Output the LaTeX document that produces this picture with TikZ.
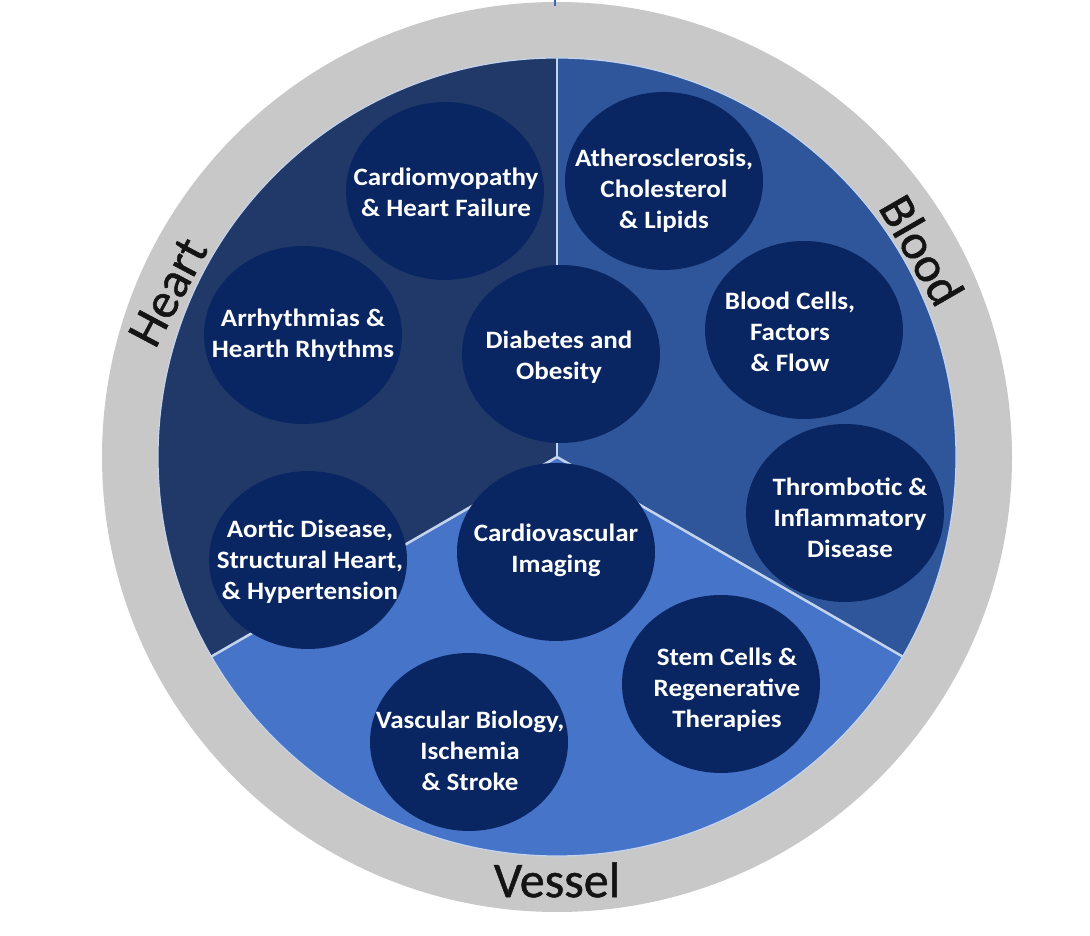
\documentclass[tikz,border=0pt]{standalone}
\usepackage{fontspec}
\setmainfont{Carlito}
\newfontfamily\bubfont[FakeStretch=1.08]{Carlito}
\newfontfamily\secfont[FakeBold=1]{Carlito}
\usetikzlibrary{calc}
\definecolor{ringgray}{RGB}{200,200,200}
\definecolor{heartc}{RGB}{33,57,104}
\definecolor{bloodc}{RGB}{47,86,155}
\definecolor{vesselc}{RGB}{70,116,200}
\definecolor{bubble}{RGB}{10,38,98}
\definecolor{divline}{RGB}{196,212,238}
\definecolor{labelc}{RGB}{20,20,20}
\definecolor{tickc}{RGB}{60,100,190}
\begin{document}
\begin{tikzpicture}[x=1pt,y=1pt,
  bub/.style={fill=bubble},
  btext/.style={text=white, font=\bubfont\fontsize{25}{31}\selectfont\bfseries, align=center, inner sep=0pt},
  seclabel/.style={font=\secfont\fontsize{50}{58}\selectfont, text=labelc, inner sep=0pt},
  divider/.style={draw=divline, line width=2.5pt}]
\useasboundingbox[fill=white] (0,0) rectangle (1090,936);
\coordinate (C) at (557,479);
% ring and sectors
\fill[ringgray] (C) circle[radius=455];
\fill[heartc] (C) -- ++(90:399) arc[start angle=90,end angle=210,radius=399] -- cycle;
\fill[bloodc] (C) -- ++(-30:399) arc[start angle=-30,end angle=90,radius=399] -- cycle;
\fill[vesselc] (C) -- ++(210:399) arc[start angle=210,end angle=330,radius=399] -- cycle;
\draw[divline, line width=1.2pt] (C) circle[radius=399];
\coordinate (top) at ($(C)+(90:399)$);
\coordinate (left) at ($(C)+(210:399)$);
\coordinate (right) at ($(C)+(330:399)$);
\draw[divider] (C) -- (top);
\draw[divider] (C) -- (left);
\draw[divider] (C) -- (right);
% small mark at top
\coordinate (m1) at (555,936);
\coordinate (m2) at (555,930);
\draw[tickc, line width=2pt] (m1) -- (m2);
% bubbles
\fill[bub] (445,745) ellipse[x radius=99, y radius=89];
\fill[bub] (664,755) ellipse[x radius=99, y radius=89];
\fill[bub] (303,601) ellipse[x radius=99, y radius=89];
\fill[bub] (561,582) ellipse[x radius=99, y radius=89];
\fill[bub] (804,606) ellipse[x radius=99, y radius=89];
\fill[bub] (845,423) ellipse[x radius=99, y radius=89];
\fill[bub] (308,376) ellipse[x radius=99, y radius=89];
\fill[bub] (556,384) ellipse[x radius=99, y radius=89];
\fill[bub] (721,252) ellipse[x radius=99, y radius=89];
\fill[bub] (469,194) ellipse[x radius=99, y radius=89];
% bubble texts
\node[btext] (cardio) at (446,744) {Cardiomyopathy\\\& Heart Failure};
\node[btext] (athero) at (664,745) {Atherosclerosis,\\Cholesterol\\\& Lipids};
\node[btext] (arrh) at (303,601) {Arrhythmias \&\\Hearth Rhythms};
\node[btext] (diab) at (559,579) {Diabetes and\\Obesity};
\node[btext] (bloodcells) at (790,604) {Blood Cells,\\Factors\\\& Flow};
\node[btext] (thromb) at (850,418) {Thrombotic \&\\Inflammatory\\Disease};
\node[btext] (aortic) at (310,374) {Aortic Disease,\\Structural Heart,\\\& Hypertension};
\node[btext] (imaging) at (556,386) {Cardiovascular\\Imaging};
\node[btext] (stem) at (727,246) {Stem Cells \&\\Regenerative\\Therapies};
\node[btext] (vasc) at (470,185) {Vascular Biology,\\Ischemia\\\& Stroke};
% sector labels
\node[seclabel, rotate=62] (heart-l) at (168,644) {Heart};
\node[seclabel, rotate=-60] (blood-l) at (922,686) {Blood};
\node[seclabel] (vessel-l) at (557,56) {Vessel};
\end{tikzpicture}
\end{document}
